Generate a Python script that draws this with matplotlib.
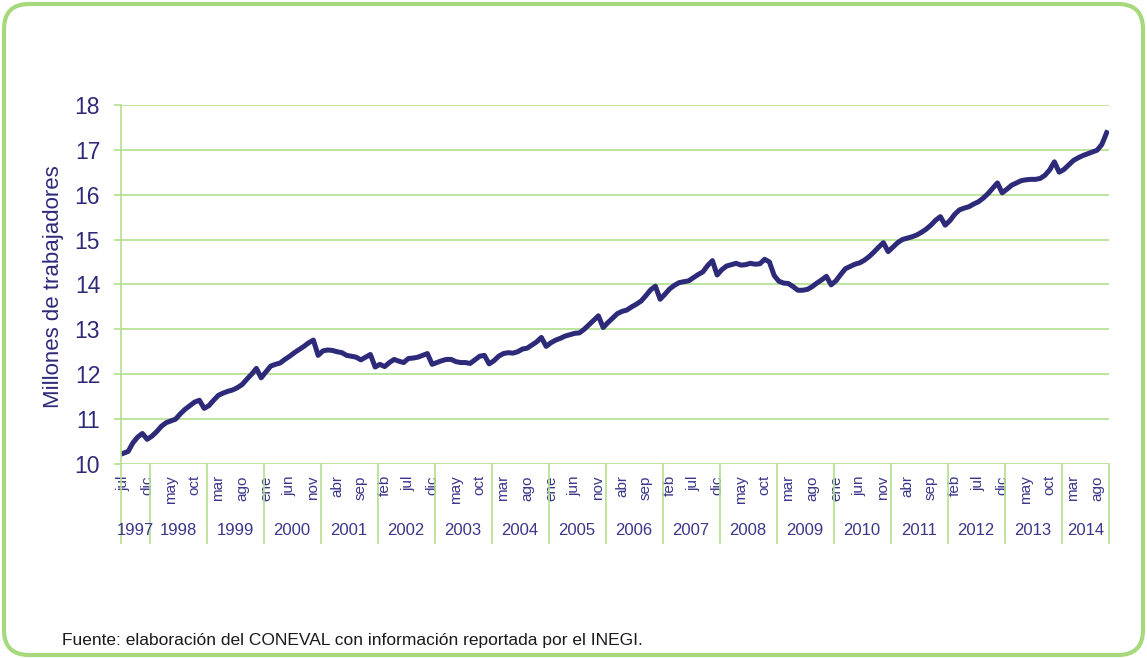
import matplotlib.pyplot as plt
from matplotlib.patches import FancyBboxPatch
import matplotlib.transforms as mtransforms

# Trabajadores asegurados, millones (jul 1997 - oct 2014)
v1997 = [10.24, 10.28, 10.47, 10.60, 10.68, 10.55]
v1998 = [10.62, 10.72, 10.84, 10.92, 10.96, 11.00, 11.12, 11.22, 11.30, 11.38, 11.42, 11.24]
v1999 = [11.30, 11.42, 11.53, 11.58, 11.62, 11.65, 11.70, 11.77, 11.89, 12.00, 12.13, 11.92]
v2000 = [12.05, 12.18, 12.22, 12.25, 12.33, 12.40, 12.48, 12.55, 12.62, 12.70, 12.76, 12.42]
v2001 = [12.52, 12.54, 12.53, 12.50, 12.48, 12.42, 12.40, 12.38, 12.32, 12.38, 12.44, 12.16]
v2002 = [12.22, 12.17, 12.26, 12.33, 12.29, 12.26, 12.35, 12.36, 12.38, 12.42, 12.46, 12.22]
v2003 = [12.26, 12.30, 12.33, 12.33, 12.28, 12.26, 12.26, 12.24, 12.32, 12.40, 12.42, 12.23]
v2004 = [12.30, 12.40, 12.46, 12.48, 12.47, 12.50, 12.56, 12.58, 12.65, 12.72, 12.82, 12.62]
v2005 = [12.70, 12.76, 12.80, 12.85, 12.88, 12.91, 12.92, 13.00, 13.10, 13.20, 13.30, 13.04]
v2006 = [13.15, 13.25, 13.35, 13.40, 13.43, 13.50, 13.56, 13.63, 13.75, 13.88, 13.96, 13.67]
v2007 = [13.78, 13.90, 13.98, 14.04, 14.06, 14.08, 14.15, 14.22, 14.28, 14.42, 14.53, 14.21]
v2008 = [14.33, 14.41, 14.44, 14.47, 14.43, 14.44, 14.47, 14.45, 14.46, 14.56, 14.50, 14.20]
v2009 = [14.07, 14.03, 14.02, 13.95, 13.87, 13.87, 13.89, 13.95, 14.03, 14.10, 14.18, 13.99]
v2010 = [14.08, 14.22, 14.35, 14.40, 14.45, 14.48, 14.54, 14.62, 14.72, 14.83, 14.93, 14.73]
v2011 = [14.83, 14.93, 15.00, 15.03, 15.06, 15.10, 15.16, 15.23, 15.32, 15.43, 15.51, 15.32]
v2012 = [15.42, 15.56, 15.66, 15.70, 15.73, 15.79, 15.84, 15.92, 16.02, 16.14, 16.26, 16.04]
v2013 = [16.12, 16.21, 16.26, 16.31, 16.33, 16.34, 16.34, 16.36, 16.43, 16.55, 16.73, 16.50]
v2014 = [16.56, 16.66, 16.76, 16.82, 16.87, 16.91, 16.95, 16.99, 17.12, 17.38]

years = list(range(1997, 2015))
series = [v1997, v1998, v1999, v2000, v2001, v2002, v2003, v2004, v2005,
          v2006, v2007, v2008, v2009, v2010, v2011, v2012, v2013, v2014]
months = ['ene', 'feb', 'mar', 'abr', 'may', 'jun',
          'jul', 'ago', 'sep', 'oct', 'nov', 'dic']
first_month = 6  # julio

values = [v for yr in series for v in yr]
idx = list(range(len(values)))

navy = '#2e2a7a'
green = '#b3df8c'
border = '#a6d87c'

plt.rcParams['font.family'] = ['Liberation Sans', 'DejaVu Sans']

fig = plt.figure(figsize=(11.47, 6.58), dpi=100)
ax = fig.add_axes([0.1055, 0.2948, 0.8614, 0.5459])

ax.plot(idx, values, color=navy, lw=3.6, solid_joinstyle='round')

ax.set_xlim(-0.5, len(values) - 0.5)
ax.set_ylim(10, 18)
ax.set_yticks(range(10, 19))
ax.grid(axis='y', color=green, lw=1.2)
ax.set_axisbelow(True)
for s in ax.spines.values():
    s.set_visible(False)
ax.tick_params(axis='y', length=5, width=1.2, color=green, pad=10,
               labelsize=16.5, labelcolor=navy)

tick_pos = idx[::5]
ax.set_xticks(tick_pos)
ax.set_xticklabels([months[(first_month + i) % 12] for i in tick_pos],
                   rotation=90, va='top', ha='center')
ax.tick_params(axis='x', length=0, pad=8, labelsize=11, labelcolor='#3a368a')

# separadores de año y etiquetas de año
trans = mtransforms.blended_transform_factory(ax.transData, ax.transAxes)
start = -0.5
ax.plot([start, start], [1, -0.22], color=green, lw=1.2, transform=trans, clip_on=False)
for yr, vals in zip(years, series):
    end = start + len(vals)
    ax.plot([end, end], [0, -0.22], color=green, lw=1.2, transform=trans, clip_on=False)
    ax.text((start + end) / 2, -0.184, str(yr), transform=trans, ha='center',
            va='center', fontsize=12, color='#3a368a')
    start = end

fig.text(0.047, 0.565, 'Millones de trabajadores', rotation=90, ha='center',
         va='center', fontsize=16, color=navy)
fig.text(0.054, 0.027, 'Fuente: elaboración del CONEVAL con información reportada por el INEGI.',
         ha='left', va='center', fontsize=12.5, color='#1a1a1a')

frame = FancyBboxPatch((0.04, 0.03), 11.39, 6.51,
                       boxstyle='round,pad=0,rounding_size=0.25',
                       transform=fig.dpi_scale_trans, fill=False,
                       ec=border, lw=3)
fig.patches.append(frame)

fig.savefig('out.png', dpi=100)
